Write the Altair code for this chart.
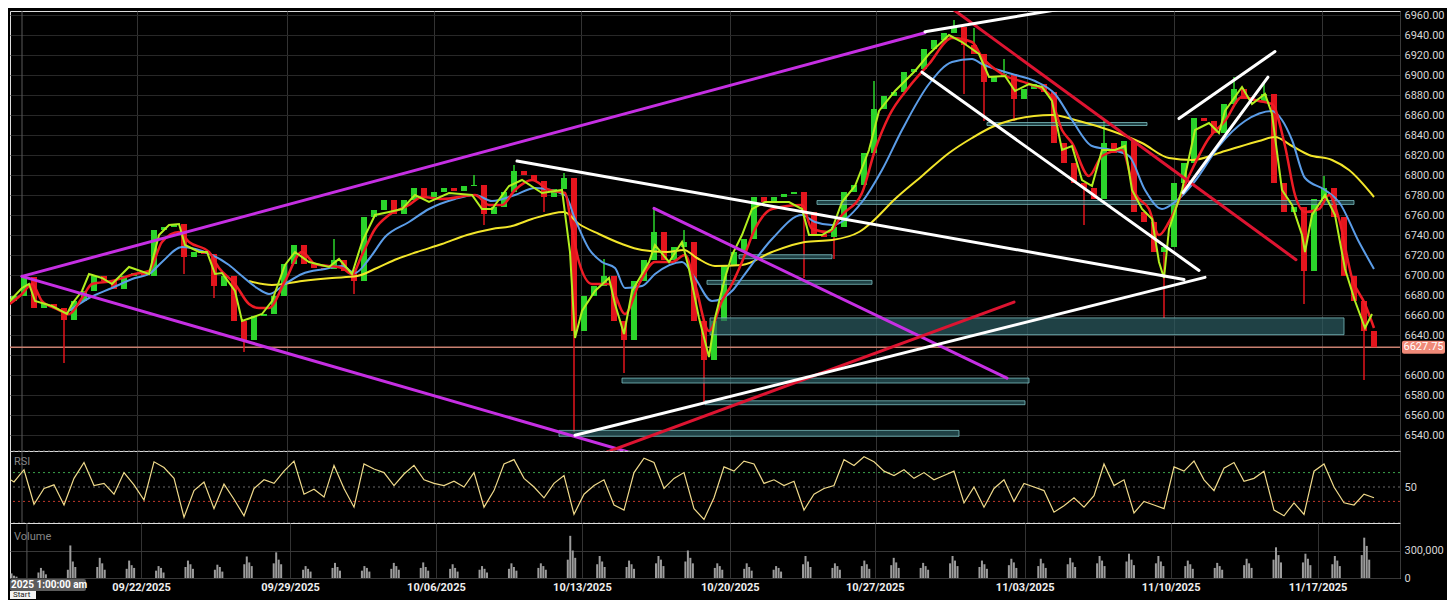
import altair as alt
import pandas as pd

# ---------------- data ----------------
# bar number: one bar = 1/3 trading day (bars_per_day below)
BARS_PER_DAY = 2.962
CLOSE = [6674, 6679, 6698, 6667, 6671, 6667, 6655, 6674, 6684, 6699,
         6694, 6686, 6699, 6702, 6699, 6745, 6748, 6751, 6718, 6723,
         6721, 6689, 6699, 6654, 6635, 6659, 6661, 6679, 6711, 6730,
         6711, 6707, 6706, 6715, 6704, 6694, 6758, 6765, 6775, 6761,
         6775, 6787, 6778, 6783, 6787, 6784, 6789, 6790, 6761, 6768,
         6783, 6804, 6800, 6794, 6778, 6786, 6797, 6644, 6679, 6689,
         6699, 6654, 6635, 6694, 6715, 6743, 6715, 6728, 6733, 6654,
         6615, 6654, 6709, 6723, 6736, 6778, 6773, 6778, 6781, 6783,
         6763, 6741, 6738, 6748, 6783, 6790, 6822, 6866, 6879, 6883,
         6903, 6906, 6926, 6935, 6942, 6948, 6930, 6921, 6893, 6899,
         6901, 6876, 6886, 6891, 6883, 6832, 6812, 6792, 6787, 6776,
         6832, 6822, 6834, 6763, 6753, 6723, 6728, 6792, 6812, 6857,
         6854, 6842, 6871, 6886, 6876, 6874, 6881, 6792, 6763, 6768,
         6704, 6776, 6787, 6758, 6699, 6674, 6644, 6627.75]
LAST_PRICE = 6627.75
LOW_SPIKES = [(6, 6612), (18, 6701), (21, 6677), (24, 6623), (35, 6681), (48, 6750),
              (54, 6763), (57, 6543), (62, 6602), (70, 6573), (80, 6697), (83, 6716),
              (96, 6881), (98, 6854), (101, 6854), (108, 6750), (116, 6657), (130, 6671),
              (136, 6595)]
HIGH_SPIKES = [(33, 6736), (47, 6800), (51, 6810), (56, 6802), (60, 6716), (65, 6766),
               (68, 6745), (87, 6894), (95, 6955), (97, 6947), (100, 6916), (110, 6854),
               (123, 6898), (126, 6891), (132, 6799)]

GREEN_EMA = [(0.3, 6671), (1.8, 6687), (2.5, 6691), (3.1, 6674), (4.8, 6669), (6.3, 6661), (6.8, 6671),
             (7.8, 6684), (8.5, 6701), (9.8, 6697), (10.8, 6691), (12.5, 6708), (14.5, 6701), (15.5, 6740),
             (16.5, 6750), (17.5, 6751), (18.1, 6730), (19.5, 6723), (20.3, 6723), (21.1, 6701), (21.8, 6702),
             (23.1, 6684), (23.8, 6654), (25.8, 6661), (26.8, 6674), (28.1, 6710), (29.1, 6723), (30.5, 6713),
             (32.5, 6708), (33.5, 6716), (34.8, 6701), (35.8, 6733), (37.1, 6760), (38.5, 6763), (39.8, 6766),
             (41.1, 6780), (42.5, 6773), (44.5, 6782), (46.8, 6780), (47.8, 6766), (48.8, 6766), (50.5, 6789),
             (51.8, 6795), (53.8, 6782), (55.8, 6785), (56.6, 6723), (57.1, 6637), (57.8, 6664), (59.1, 6684),
             (60.5, 6697), (61.1, 6671), (62.0, 6641), (62.8, 6684), (64.5, 6713), (65.1, 6730), (66.5, 6713),
             (67.8, 6733), (68.5, 6706), (69.5, 6657), (70.5, 6618), (71.1, 6657), (72.1, 6697), (72.8, 6720),
             (73.8, 6740), (74.8, 6766), (76.1, 6773), (78.5, 6773), (79.8, 6766), (80.5, 6740), (81.8, 6740),
             (82.8, 6746), (83.8, 6773), (85.1, 6789), (86.5, 6825), (87.5, 6864), (89.1, 6884), (91.1, 6904),
             (92.5, 6921), (94.5, 6940), (95.8, 6933), (97.5, 6921), (98.5, 6898), (100.1, 6899), (101.1, 6884),
             (102.5, 6891), (103.8, 6888), (104.8, 6874), (105.8, 6825), (106.8, 6829), (107.8, 6795),
             (108.8, 6789), (109.8, 6825), (111.1, 6825), (112.1, 6829), (112.8, 6785), (113.8, 6766),
             (114.8, 6756), (115.5, 6713), (116.0, 6697), (116.5, 6746), (117.8, 6785), (119.1, 6845),
             (120.5, 6852), (121.5, 6842), (122.1, 6864), (123.8, 6888), (124.8, 6871), (126.1, 6881),
             (126.8, 6861), (127.8, 6785), (128.8, 6770), (129.8, 6740), (130.1, 6723), (130.8, 6760),
             (132.1, 6780), (133.1, 6760), (134.1, 6706), (135.1, 6674), (136.1, 6647), (136.8, 6661)]

RED_EMA = [(0.3, 6669), (1.8, 6681), (2.8, 6691), (3.8, 6674), (5.3, 6666), (6.5, 6661), (7.8, 6677),
           (8.8, 6691), (10.8, 6694), (13.1, 6701), (14.5, 6704), (15.8, 6733), (17.5, 6743), (18.5, 6733),
           (20.5, 6723), (21.5, 6707), (23.1, 6691), (24.5, 6671), (25.5, 6667), (26.5, 6667), (28.1, 6694),
           (29.8, 6723), (31.1, 6711), (33.8, 6707), (34.8, 6701), (35.8, 6720), (37.1, 6746), (38.5, 6760),
           (40.5, 6770), (41.8, 6778), (43.8, 6776), (47.1, 6780), (48.5, 6770), (49.8, 6770), (51.1, 6785),
           (52.8, 6795), (54.5, 6785), (56.1, 6782), (56.8, 6746), (57.5, 6713), (58.8, 6691), (60.5, 6691),
           (62.1, 6661), (63.5, 6691), (65.1, 6713), (66.8, 6713), (68.1, 6720), (69.1, 6691), (70.5, 6644),
           (71.8, 6674), (72.8, 6691), (73.8, 6713), (75.1, 6746), (76.8, 6766), (79.8, 6770), (80.8, 6746),
           (82.5, 6743), (83.8, 6760), (85.8, 6782), (87.1, 6825), (88.5, 6859), (90.5, 6888), (92.5, 6911),
           (94.8, 6937), (96.8, 6933), (97.8, 6918), (99.8, 6901), (102.5, 6891), (104.5, 6881), (105.8, 6845),
           (106.8, 6832), (108.5, 6799), (109.8, 6819), (111.8, 6825), (113.1, 6782), (114.5, 6766),
           (115.5, 6740), (116.5, 6753), (118.5, 6799), (120.5, 6837), (122.1, 6854), (123.8, 6878),
           (125.5, 6874), (126.8, 6871), (128.1, 6829), (129.1, 6780), (130.1, 6763), (131.5, 6766),
           (132.5, 6780), (133.5, 6756), (134.8, 6697), (136.1, 6671), (137.0, 6647)]

BLUE_EMA = [(6.5, 6664), (8.5, 6677), (10.8, 6687), (13.1, 6697), (14.5, 6701), (15.8, 6713), (17.8, 6728),
            (19.8, 6724), (22.5, 6710), (23.8, 6699), (25.3, 6687), (26.5, 6681), (28.1, 6691), (29.8, 6701),
            (32.1, 6706), (33.8, 6709), (35.1, 6702), (36.5, 6716), (38.1, 6738), (40.5, 6753), (42.5, 6766),
            (45.1, 6776), (47.1, 6780), (48.8, 6774), (51.1, 6780), (53.1, 6787), (56.1, 6780), (57.1, 6756),
            (58.5, 6726), (59.8, 6713), (61.1, 6707), (62.1, 6687), (63.8, 6689), (65.1, 6701), (67.8, 6713),
            (69.1, 6697), (70.8, 6674), (72.8, 6684), (73.8, 6697), (76.8, 6736), (79.8, 6760), (81.1, 6753),
            (82.8, 6750), (85.8, 6773), (87.8, 6805), (89.8, 6845), (92.5, 6891), (94.8, 6913), (96.8, 6916),
            (97.8, 6911), (100.8, 6901), (103.1, 6894), (105.1, 6881), (106.8, 6855), (108.8, 6829),
            (110.8, 6825), (112.5, 6819), (114.1, 6785), (115.8, 6766), (117.1, 6773), (119.1, 6794),
            (121.5, 6829), (124.1, 6854), (126.8, 6864), (127.8, 6855), (128.8, 6835), (130.1, 6797),
            (132.1, 6785), (133.5, 6773), (135.5, 6733), (137.0, 6706)]

YELLOW_MA = [(24.5, 6694), (26.8, 6690), (29.8, 6694), (32.8, 6697), (35.3, 6699), (37.3, 6707), (39.3, 6716),
             (41.3, 6723), (43.8, 6731), (46.3, 6740), (48.8, 6746), (50.8, 6749), (52.8, 6756), (56.0, 6763),
             (57.5, 6751), (59.5, 6741), (61.8, 6731), (63.8, 6725), (66.3, 6723), (68.0, 6725), (69.3, 6717),
             (71.1, 6709), (73.8, 6710), (76.8, 6723), (80.1, 6733), (82.8, 6735), (85.5, 6743), (86.8, 6753),
             (89.1, 6776), (91.8, 6799), (94.5, 6822), (96.8, 6837), (98.8, 6848), (100.8, 6855), (104.8, 6860),
             (107.5, 6854), (110.8, 6844), (113.8, 6832), (116.5, 6817), (118.8, 6815), (122.1, 6824),
             (125.5, 6834), (127.1, 6838), (128.8, 6829), (130.5, 6820), (132.8, 6815), (134.5, 6805),
             (137.0, 6778)]

RSI = [66, 57, 74, 26, 48, 53, 25, 62, 84, 52, 55, 40, 70, 53, 32, 85, 77, 62, 8, 45,
       57, 20, 54, 33, 10, 48, 60, 55, 72, 86, 40, 47, 36, 80, 48, 22, 82, 75, 70, 52,
       68, 80, 60, 55, 52, 58, 50, 70, 22, 45, 82, 88, 62, 50, 35, 55, 66, 12, 40, 52,
       60, 25, 18, 70, 90, 84, 48, 62, 70, 20, 5, 35, 78, 72, 86, 82, 55, 60, 52, 58,
       18, 40, 48, 52, 88, 80, 92, 85, 72, 66, 74, 62, 70, 60, 66, 72, 28, 50, 22, 48,
       60, 30, 55, 50, 45, 15, 24, 35, 22, 38, 82, 52, 60, 14, 30, 25, 20, 78, 72, 86,
       60, 45, 76, 84, 58, 62, 72, 18, 10, 28, 12, 72, 82, 50, 28, 25, 40, 35]

# volume (thousands) - one cluster per trading day around the cash open
VOLUME_K = [[30, 50, 25, 15], [60, 110, 80, 40], [90, 355, 180, 120], [120, 220, 160, 90],
            [100, 190, 140, 110], [80, 130, 110, 60], [120, 190, 150, 100], [90, 145, 120, 70],
            [150, 235, 170, 130], [160, 280, 200, 150], [90, 130, 100, 70], [110, 165, 120, 80],
            [80, 130, 110, 70], [100, 165, 130, 90], [110, 170, 120, 80], [100, 150, 110, 70],
            [90, 130, 100, 60], [100, 160, 120, 80], [110, 160, 130, 90], [200, 460, 300, 220],
            [150, 240, 180, 120], [120, 190, 150, 100], [160, 240, 200, 130], [180, 300, 220, 160],
            [110, 160, 130, 90], [100, 160, 120, 80], [90, 130, 110, 70], [150, 240, 180, 120],
            [110, 160, 130, 90], [130, 190, 150, 100], [140, 220, 170, 110], [110, 165, 130, 90],
            [160, 240, 190, 130], [120, 190, 150, 100], [140, 210, 170, 110], [130, 210, 160, 110],
            [150, 220, 170, 120], [160, 240, 190, 130], [180, 265, 200, 140], [160, 240, 180, 130],
            [130, 190, 150, 100], [110, 165, 130, 90], [140, 210, 160, 110], [200, 335, 250, 170],
            [170, 265, 210, 140], [150, 240, 190, 130], [250, 440, 350, 200]]

WEEK_BARS = [13.3, 28.3, 43.0, 57.7, 72.6, 87.2, 102.3, 117.0, 131.8]
WEEK_LABELS = ["09/22/2025", "09/29/2025", "10/06/2025", "10/13/2025", "10/20/2025",
               "10/27/2025", "11/03/2025", "11/10/2025", "11/17/2025"]
START_BAR = 1.8

MAGENTA_LINES = [[(1.8, 6698.6), (92.1, 6942.2)], [(1.8, 6698.6), (64.8, 6516.1)],
                 [(65.0, 6766.6), (100.3, 6596.9)]]
WHITE_LINES = [[(92.1, 6943.2), (109.8, 6972.8)], [(51.3, 6814.0), (118.0, 6695.6)],
               [(57.1, 6539.7), (120.1, 6697.6)], [(91.8, 6902.8), (119.5, 6704.5)],
               [(117.5, 6856.4), (127.1, 6923.5)], [(117.9, 6782.4), (126.4, 6897.9)]]
RED_LINES = [[(94.6, 6967.9), (129.2, 6715.3)], [(59.5, 6520.0), (101.0, 6672.9)]]
ZONES = [(81.3, 135.0, 6774.5, 6770.6), (98.3, 114.3, 6852.5, 6849.5), (73.5, 82.8, 6720.3, 6716.3),
         (70.3, 86.8, 6694.6, 6690.7), (70.6, 134.0, 6657.1, 6640.3), (61.8, 102.5, 6596.9, 6592.0),
         (70.1, 102.1, 6574.2, 6570.3), (55.5, 95.5, 6544.6, 6538.7)]
PRICE_TICKS = list(range(6540, 6961, 20))
HIDDEN_TICK = 6620  # covered by the last-price box in the reference

# ---------------- layout / style ----------------
W, H_P, H_R, H_V = 1390, 440, 72, 55
FONT = "Roboto"
XS = alt.Scale(domain=[0.6, 139.6], nice=False, zero=False)
YP = alt.Scale(domain=[6524, 6964], nice=False, zero=False)
YR = alt.Scale(domain=[0, 100], nice=False, zero=False)
YV = alt.Scale(domain=[0, 600000], nice=False)

label_expr = ("[" + ",".join(f"'{l}'" for l in WEEK_LABELS) + "][indexof(["
              + ",".join(str(v) for v in WEEK_BARS) + "], datum.value)]")


def x_axis(show):
    return alt.Axis(values=WEEK_BARS, grid=True, gridColor="#333333", gridWidth=1, domain=False,
                    ticks=False, labels=show, labelExpr=label_expr, title=None, labelColor="#eeeeee",
                    labelFontSize=11, labelFontWeight="bold", labelPadding=3, labelFont=FONT)


def y_axis(values, fmt, grid, grid_color="#282828", expr=None):
    kw = {}
    if expr:
        kw["labelExpr"] = expr
    return alt.Axis(orient="right", values=values, format=fmt, grid=grid, gridColor=grid_color,
                    domain=True, domainColor="#3a3a3a", ticks=False, labelColor="#d6d6d6",
                    labelFontSize=11, labelFont=FONT, labelPadding=4, title=None,
                    minExtent=46, maxExtent=46, **kw)


YPA = y_axis(PRICE_TICKS, ".2f", True,
             expr=f"datum.value == {HIDDEN_TICK} ? '' : format(datum.value, '.2f')")
YRA = y_axis([50], "d", False)
YVA = y_axis([0, 300000], ",d", True, "#383838")


def PX(field, show=False):
    return alt.X(f"{field}:Q", scale=XS, axis=x_axis(show))


def PY(field):
    return alt.Y(f"{field}:Q", scale=YP, axis=YPA)


# ---------------- tables ----------------
opens = [CLOSE[0] - 4] + CLOSE[:-1]
candles = pd.DataFrame({"bar": list(range(len(CLOSE))), "open": opens, "close": CLOSE})
candles["dir"] = ["up" if c >= o else "down" for o, c in zip(opens, CLOSE)]

wick_rows = []
for b, lo in LOW_SPIKES:
    wick_rows.append({"bar": b, "a": min(opens[b], CLOSE[b]), "b": lo, "dir": "down"})
for b, hi in HIGH_SPIKES:
    wick_rows.append({"bar": b, "a": max(opens[b], CLOSE[b]), "b": hi, "dir": "up"})
wicks = pd.DataFrame(wick_rows)


def series(pairs):
    return pd.DataFrame({"bar": [p[0] for p in pairs], "price": [p[1] for p in pairs]})


def segs(lines):
    rows = []
    for i, seg in enumerate(lines):
        for b, p in seg:
            rows.append({"id": i, "bar": b, "price": p})
    return pd.DataFrame(rows)


zones = pd.DataFrame(ZONES, columns=["b0", "b1", "top", "bot"])
start_df = pd.DataFrame({"bar": [START_BAR]})
last_df = pd.DataFrame({"price": [LAST_PRICE], "hi": [LAST_PRICE + 6.5], "lo": [LAST_PRICE - 6.5],
                        "label": [f"{LAST_PRICE:.2f}"]})

dir_color = alt.Color("dir:N", scale=alt.Scale(domain=["up", "down"], range=["#2bd42b", "#e3151d"]),
                      legend=None)

# ---------------- price panel ----------------
start_rule = alt.Chart(start_df).mark_rule(color="#5a5a5a", strokeWidth=1).encode(x=PX("bar"))
last_rule = alt.Chart(last_df).mark_rule(color="#c98070", strokeWidth=1.5).encode(y=PY("price"))
wick_layer = alt.Chart(wicks).mark_rule(strokeWidth=1.5, clip=True).encode(
    x=PX("bar"), y=PY("a"), y2=alt.Y2("b:Q"), color=dir_color)
candle_layer = alt.Chart(candles).mark_rule(strokeWidth=6, clip=True).encode(
    x=PX("bar"), y=PY("open"), y2=alt.Y2("close:Q"), color=dir_color)
zone_layer = alt.Chart(zones).mark_rect(fill="#2c5d62", fillOpacity=0.7, stroke="#79bcbe",
                                        strokeWidth=1, strokeOpacity=0.8, clip=True).encode(
    x=PX("b0"), x2=alt.X2("b1:Q"), y=PY("top"), y2=alt.Y2("bot:Q"))


def ma_line(pairs, color, width, interp="monotone"):
    return alt.Chart(series(pairs)).mark_line(color=color, strokeWidth=width, clip=True,
                                              interpolate=interp).encode(x=PX("bar"), y=PY("price"))


def trend(lines, color, width):
    return alt.Chart(segs(lines)).mark_line(color=color, strokeWidth=width, clip=True,
                                            strokeCap="round").encode(
        x=PX("bar"), y=PY("price"), detail="id:N")


box = alt.Chart(last_df).mark_rect(fill="#f08a78", cornerRadius=2).encode(
    x=alt.value(W + 2), x2=alt.value(W + 45), y=PY("hi"), y2=alt.Y2("lo:Q"))
box_text = alt.Chart(last_df).mark_text(color="#ffffff", fontSize=11, font=FONT, align="center",
                                        baseline="middle").encode(
    x=alt.value(W + 23.5), y=PY("price"), text="label:N")

price = alt.layer(
    start_rule, last_rule, wick_layer, candle_layer, zone_layer,
    ma_line(YELLOW_MA, "#f2e52a", 2),
    ma_line(BLUE_EMA, "#5b9de8", 2),
    ma_line(RED_EMA, "#ee1c25", 2.5),
    ma_line(GREEN_EMA, "#b2ee1f", 2, "linear"),
    trend(MAGENTA_LINES, "#c62fe3", 3),
    trend(RED_LINES, "#dd1431", 3),
    trend(WHITE_LINES, "#ffffff", 3),
    box, box_text,
).properties(width=W, height=H_P)

# ---------------- RSI panel ----------------
rsi_df = pd.DataFrame({"bar": list(range(len(RSI))), "rsi": RSI})
levels = pd.DataFrame({"lvl": [100, 70, 50, 30, 0],
                       "c": ["#6a6a6a", "#3aa34a", "#6a6a6a", "#c0392b", "#6a6a6a"]})
rsi_levels = alt.Chart(levels).mark_rule(strokeDash=[2, 3], strokeWidth=1).encode(
    y=alt.Y("lvl:Q", scale=YR, axis=YRA), color=alt.Color("c:N", scale=None))
rsi_start = alt.Chart(start_df).mark_rule(color="#5a5a5a", strokeWidth=1).encode(x=PX("bar"))
rsi_line = alt.Chart(rsi_df).mark_line(color="#efd98a", strokeWidth=1.2, clip=True).encode(
    x=PX("bar"), y=alt.Y("rsi:Q", scale=YR, axis=YRA))
rsi_text = alt.Chart(pd.DataFrame({"t": ["RSI"]})).mark_text(
    color="#858585", fontSize=11, font=FONT, align="left", baseline="middle").encode(
    x=alt.value(4), y=alt.value(11), text="t:N")
rsi = alt.layer(rsi_levels, rsi_start, rsi_line, rsi_text).properties(width=W, height=H_R)

# ---------------- volume panel ----------------
vol_rows = []
for k, cluster in enumerate(VOLUME_K):
    for j, v in enumerate(cluster):
        vol_rows.append({"bar": k * BARS_PER_DAY + j * 0.25, "vol": v * 1000})
vol_df = pd.DataFrame(vol_rows)
vol_start = alt.Chart(start_df).mark_rule(color="#5a5a5a", strokeWidth=1).encode(x=PX("bar", True))
vol_bars = alt.Chart(vol_df).mark_bar(width=2, color="#9c9c9c", clip=True).encode(
    x=PX("bar", True), y=alt.Y("vol:Q", scale=YV, axis=YVA))
vol_text = alt.Chart(pd.DataFrame({"t": ["Volume"]})).mark_text(
    color="#858585", fontSize=11, font=FONT, align="left", baseline="middle").encode(
    x=alt.value(4), y=alt.value(14), text="t:N")
one = pd.DataFrame({"t": ["2025 1:00:00 am"], "s": ["Start"]})
time_box = alt.Chart(one).mark_rect(fill="#5c5c5c", cornerRadius=2).encode(
    x=alt.value(0), x2=alt.value(76), y=alt.value(H_V + 1), y2=alt.value(H_V + 13))
time_text = alt.Chart(one).mark_text(color="#ffffff", fontSize=10, font=FONT, fontWeight="bold",
                                     align="left", baseline="middle").encode(
    x=alt.value(1), y=alt.value(H_V + 7), text="t:N")
start_box = alt.Chart(one).mark_rect(fill="#f2f2f2").encode(
    x=alt.value(0), x2=alt.value(26), y=alt.value(H_V + 13), y2=alt.value(H_V + 21))
start_text = alt.Chart(one).mark_text(color="#222222", fontSize=8, font=FONT, align="left",
                                      baseline="middle").encode(
    x=alt.value(3), y=alt.value(H_V + 17), text="s:N")
vol = alt.layer(vol_start, vol_bars, vol_text, time_box, time_text, start_box, start_text).properties(
    width=W, height=H_V)

chart = alt.vconcat(price, rsi, vol, spacing=0, bounds="flush").properties(
    background="#000000", padding=0
).configure_view(stroke=None).configure(font=FONT)

chart.save("out.html", embed_options={"renderer": "svg", "actions": False})
